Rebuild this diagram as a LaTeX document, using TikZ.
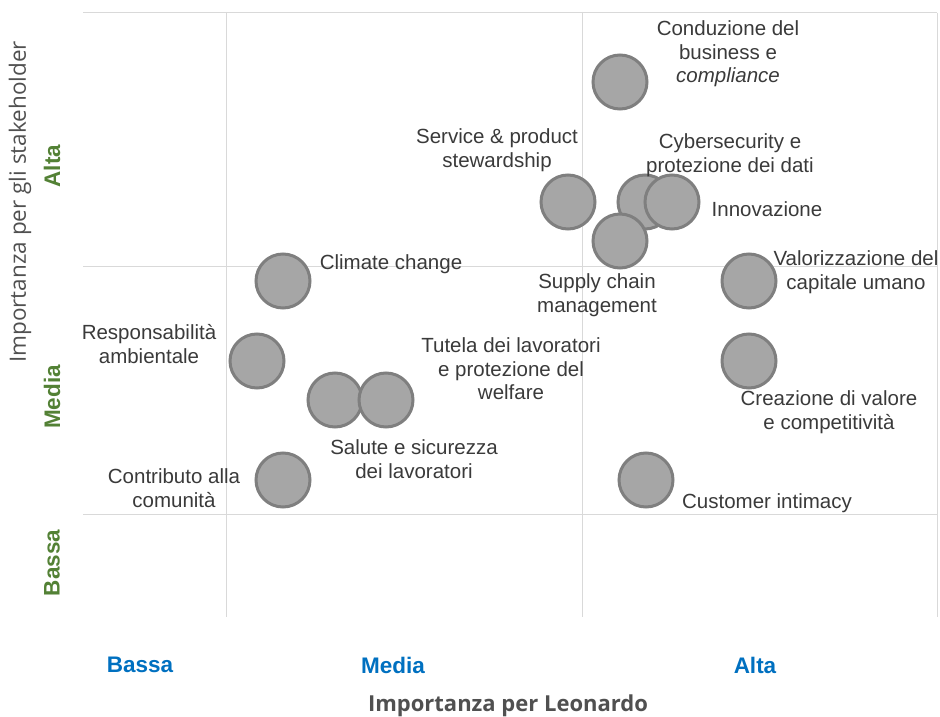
\documentclass[tikz,border=0pt]{standalone}
\usepackage{fontspec}
\setmainfont{Liberation Sans}
\newfontfamily\opensans{Open Sans}
\definecolor{gridgray}{HTML}{D9D9D9}
\definecolor{bubfill}{HTML}{A6A6A6}
\definecolor{bubline}{HTML}{7F7F7F}
\definecolor{txtgray}{HTML}{3A3A3A}
\definecolor{axgreen}{HTML}{538135}
\definecolor{axblue}{HTML}{0070C0}
\definecolor{titlegray}{HTML}{505050}
\begin{document}
\begin{tikzpicture}[x=1pt,y=-1pt,
  gridline/.style={draw=gridgray, line width=1},
  bub/.style={circle, minimum size=54, inner sep=0, fill=bubfill, draw=bubline, line width=3},
  lbl/.style={font=\fontsize{20.5}{23.5}\selectfont, text=txtgray, align=center, inner sep=0},
  axg/.style={font=\fontsize{22.5}{26}\selectfont\bfseries, text=axgreen, rotate=90, inner sep=0},
  axb/.style={font=\fontsize{22.5}{26}\selectfont\bfseries, text=axblue, inner sep=0},
  axtitle/.style={font=\opensans\fontsize{22.5}{26}\selectfont, text=titlegray, inner sep=0}]
\useasboundingbox (0,0) rectangle (940,717);
% grid
\draw[gridline] (83,13) -- (937,13);
\draw[gridline] (83,266) -- (937,266);
\draw[gridline] (83,514) -- (937,514);
\draw[gridline] (226,12) -- (226,617);
\draw[gridline] (582,12) -- (582,617);
\draw[gridline] (937,13) -- (937,617);
% bubbles
\node[bub] (b1) at (620,82) {};
\node[bub] (b2) at (568,202) {};
\node[bub] (b3) at (645,202) {};
\node[bub] (b4) at (672,202) {};
\node[bub] (b5) at (620,241) {};
\node[bub] (b6) at (749,281) {};
\node[bub] (b7) at (283,281) {};
\node[bub] (b8) at (257,361) {};
\node[bub] (b9) at (335,400) {};
\node[bub] (b10) at (386,400) {};
\node[bub] (b11) at (749,361) {};
\node[bub] (b12) at (283,480) {};
\node[bub] (b13) at (646,480) {};
% labels
\node[lbl] (t1) at (728,54) {Conduzione del\\business e\\\textit{compliance}};
\node[lbl] (t2) at (497,150) {Service \& product\\stewardship};
\node[lbl] (t3) at (730,155) {Cybersecurity e\\protezione dei dati};
\node[lbl] (t4) at (767,209) {Innovazione};
\node[lbl] (t5) at (597,295) {Supply chain\\management};
\node[lbl] (t6) at (856,272) {Valorizzazione del\\capitale umano};
\node[lbl] (t7) at (391,264) {Climate change};
\node[lbl] (t8) at (149,344) {Responsabilità\\ambientale};
\node[lbl] (t9) at (511,369) {Tutela dei lavoratori\\e protezione del\\welfare};
\node[lbl] (t10) at (414,459) {Salute e sicurezza\\dei lavoratori};
\node[lbl] (t11) at (174,488) {Contributo alla\\comunità};
\node[lbl] (t12) at (829,412) {Creazione di valore\\e competitività};
\node[lbl] (t13) at (767,503) {Customer intimacy};
% axes
\node[axtitle, rotate=90] (yt) at (20,202) {Importanza per gli stakeholder};
\node[axg] (ya) at (52,166) {Alta};
\node[axg] (ym) at (52,397) {Media};
\node[axg] (yb) at (52,563) {Bassa};
\node[axb] (xb) at (140,665) {Bassa};
\node[axb] (xm) at (393,665) {Media};
\node[axb] (xa) at (755,665) {Alta};
\node[axtitle, font=\opensans\bfseries\fontsize{22}{26}\selectfont] (xt) at (508,706) {Importanza per Leonardo};
\end{tikzpicture}
\end{document}
